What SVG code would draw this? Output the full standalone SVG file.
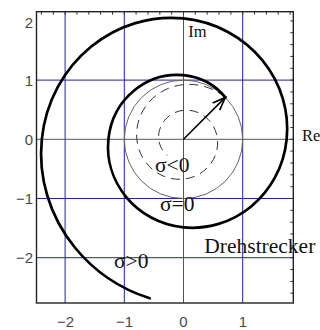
<svg xmlns="http://www.w3.org/2000/svg" width="320" height="330" viewBox="0 0 320 330">
<defs>
<style>
.grid{stroke:#22229a;stroke-width:1;fill:none}
.axis{stroke:#555;stroke-width:1;fill:none}
.tick{stroke:#333;stroke-width:1;fill:none}
.frame{stroke:#222;stroke-width:1.4;fill:none}
.thick{stroke:#000;stroke-width:2.7;fill:none;stroke-linecap:round;stroke-linejoin:round}
.circle{stroke:#666;stroke-width:1;fill:none}
.dash{stroke:#333;stroke-width:1;fill:none;stroke-dasharray:9 6}
.lbl{font-family:"Liberation Serif","Times New Roman",serif;font-size:21.5px;fill:#111}
.ax{font-family:"Liberation Serif","Times New Roman",serif;font-size:16.5px;fill:#111}
.num{font-family:"Liberation Sans",Arial,sans-serif;font-size:15px;fill:#4a4a4a}
</style>
<marker id="head" viewBox="-14 -6 16 12" refX="0" refY="0" markerWidth="16" markerHeight="12" markerUnits="userSpaceOnUse" orient="auto">
<path d="M-13,-5 L0,0 L-13,5" fill="none" stroke="#000" stroke-width="1.6" stroke-linejoin="miter"/>
</marker>
</defs>
<rect width="320" height="330" fill="#fff"/>
<g id="grid">
<line class="grid" x1="65.1" y1="11.7" x2="65.1" y2="303"/>
<line class="grid" x1="124.3" y1="11.7" x2="124.3" y2="303"/>
<line class="grid" x1="242.7" y1="11.7" x2="242.7" y2="303"/>
<line class="grid" x1="36.5" y1="80.1" x2="293.3" y2="80.1"/>
<line class="grid" x1="36.5" y1="198.5" x2="293.3" y2="198.5"/>
<line class="grid" x1="36.5" y1="257.7" x2="293.3" y2="257.7"/>
</g>
<g id="axes">
<line class="axis" x1="183.5" y1="11.7" x2="183.5" y2="303"/>
<line class="axis" x1="36.5" y1="139.3" x2="293.3" y2="139.3"/>
</g>
<g id="ticks" class="tick">
<path d="M41.4,11.7v3M53.3,11.7v3M65.1,11.7v3M76.9,11.7v3M88.8,11.7v3M100.6,11.7v3M112.5,11.7v3M124.3,11.7v3M136.1,11.7v3M148,11.7v3M159.8,11.7v3M171.7,11.7v3M183.5,11.7v3M195.3,11.7v3M207.2,11.7v3M219,11.7v3M230.9,11.7v3M242.7,11.7v3M254.5,11.7v3M266.4,11.7v3M278.2,11.7v3M290.1,11.7v3"/>
<path d="M293.3,20.9h-3M293.3,32.7h-3M293.3,44.6h-3M293.3,56.4h-3M293.3,68.3h-3M293.3,80.1h-3M293.3,91.9h-3M293.3,103.8h-3M293.3,115.6h-3M293.3,127.5h-3M293.3,139.3h-3M293.3,151.1h-3M293.3,163h-3M293.3,174.8h-3M293.3,186.7h-3M293.3,198.5h-3M293.3,210.3h-3M293.3,222.2h-3M293.3,234h-3M293.3,245.9h-3M293.3,257.7h-3M293.3,269.5h-3M293.3,281.4h-3M293.3,293.2h-3"/>
</g>
<rect id="frame" class="frame" x="36.5" y="11.7" width="256.8" height="291.3"/>
<g id="curves">
<circle class="circle" cx="183.5" cy="139.3" r="59.2"/>
<path class="dash" d="M225.36,97.44 C213.14,87.46 198.0,83.15 183.5,84.62 C169.0,86.08 156.30,93.15 147.78,103.58 C139.26,114.01 135.59,126.92 136.84,139.3 C138.09,151.68 144.12,162.51 153.02,169.78 C161.92,177.05 172.94,180.19 183.5,179.12 C194.06,178.05 203.31,172.91 209.51,165.31 C215.71,157.71 218.39,148.31 217.48,139.3 C216.57,130.29 212.17,122.40 205.69,117.11 C199.21,111.82 191.19,109.53 183.5,110.31 C175.81,111.09 169.08,114.83 164.56,120.36 C160.05,125.89 158.10,132.74 158.76,139.3 C159.42,145.86 162.62,151.61 167.34,155.46"/>
<path class="thick" d="M225.36,97.44 C215.38,85.22 200.5,76.93 183.5,75.21 C166.5,73.49 148.77,78.54 134.44,90.24 C120.11,101.94 110.40,119.38 108.39,139.3 C106.38,159.22 112.30,180.0 126.01,196.79 C139.72,213.58 160.15,224.96 183.5,227.32 C206.85,229.68 231.20,222.75 250.88,206.68 C270.56,190.61 283.89,166.66 286.65,139.3 C289.41,111.94 281.29,83.40 262.46,60.34 C243.63,37.28 215.56,21.65 183.5,18.41 C151.44,15.17 117.98,24.70 90.96,46.76 C63.94,68.82 45.62,101.72 41.82,139.3 C38.02,176.88 49.19,216.08 75.05,247.75 C93.90,270.83 119.62,288.66 149.70,298.30"/>
<line x1="183.5" y1="139.3" x2="225.36" y2="97.44" stroke="#000" stroke-width="1.6" marker-end="url(#head)"/>
</g>
<g id="labels">
<text class="ax" x="188.3" y="37.3">Im</text>
<text class="ax" x="302" y="140.5">Re</text>
<text class="lbl" x="155" y="172.3">σ&lt;0</text>
<text class="lbl" x="160" y="211">σ=0</text>
<text class="lbl" x="114" y="268.3">σ&gt;0</text>
<text class="lbl" x="204.3" y="253.3">Drehstrecker</text>
</g>
<g id="ticklabels" class="num">
<text x="65.5" y="326.5" text-anchor="middle">−2</text>
<text x="124.5" y="326.5" text-anchor="middle">−1</text>
<text x="183.5" y="326.5" text-anchor="middle">0</text>
<text x="243" y="326.5" text-anchor="middle">1</text>
<text x="33" y="28" text-anchor="end">2</text>
<text x="33" y="85.5" text-anchor="end">1</text>
<text x="33" y="144.7" text-anchor="end">0</text>
<text x="33" y="204" text-anchor="end">−1</text>
<text x="33" y="263.2" text-anchor="end">−2</text>
</g>
</svg>
